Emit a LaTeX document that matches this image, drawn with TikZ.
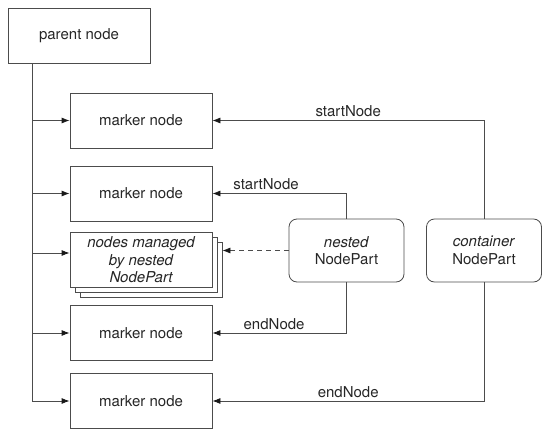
\documentclass[tikz,border=0pt]{standalone}
\usepackage{fontspec}
\setmainfont{TeX Gyre Heros}
\usetikzlibrary{arrows.meta}

\begin{document}
\begin{tikzpicture}
  [x=1pt,y=-1pt,line width=.8pt,
   every node/.style={font=\fontsize{15}{17.5}\selectfont,text=black!85},
   box/.style={draw=black!70,fill=white,minimum width=142pt,minimum height=55pt,align=center},
   managed/.style={box,font=\fontsize{15}{17.5}\selectfont\itshape},
   part/.style={draw=black!70,rounded corners=8pt,minimum width=115pt,minimum height=63pt,align=center},
   link/.style={draw=black!70,-{Latex[length=8pt,width=6pt,color=black!90]}}]
  \useasboundingbox (0,0) rectangle (554,439);

  \node[box] (nparent) at (79,36) {parent node};
  \node[box] (nm1) at (141,120.5) {marker node};
  \node[box] (nm2) at (141,193.5) {marker node};
  \node[box] (ns3) at (151,270) {};
  \node[box] (ns2) at (146,265) {};
  \node[managed] (ns1) at (141,260) {nodes managed\\by nested\\NodePart};
  \node[box] (nm4) at (141,333) {marker node};
  \node[box] (nm5) at (141,401) {marker node};
  \node[part] (nnested) at (346.5,250.5) {\textit{nested}\\NodePart};
  \node[part] (ncontainer) at (484,250.5) {\textit{container}\\NodePart};

  \coordinate (ntrunk) at (32,63);
  \coordinate (nin) at ([yshift=7pt]ns1.west);
  \draw[draw=black!70] (ntrunk) -- (ntrunk |- nm5);
  \foreach \to in {nm1,nm2,nin,nm4,nm5}
    \draw[link] (ntrunk |- \to) -- (\to);
  \draw[link,dash pattern=on 5pt off 4pt] (nnested) -- (nnested -| ns3.east);

  \foreach \from/\to/\txt/\p in {ncontainer.north/nm1/startNode/.75,nnested.north/nm2/startNode/.8,
                                 nnested.south/nm4/endNode/.77,ncontainer.south/nm5/endNode/.75}
    \draw[link] (\from) |- node[above,pos=\p] {\txt} (\to);
\end{tikzpicture}
\end{document}
